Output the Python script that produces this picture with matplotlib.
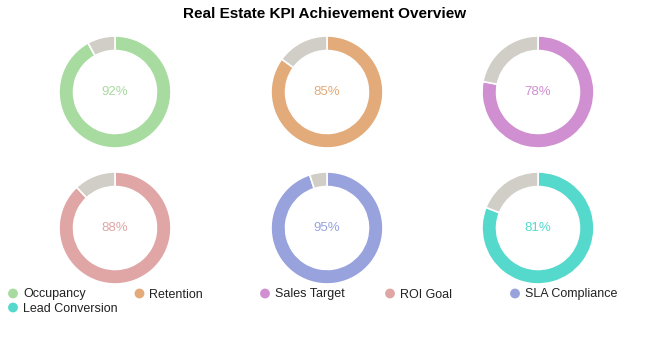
import matplotlib
matplotlib.use("Agg")
import matplotlib.pyplot as plt

plt.rcParams['font.family'] = ['Liberation Sans', 'DejaVu Sans']

kpis = ["Occupancy", "Retention", "Sales Target", "ROI Goal", "SLA Compliance", "Lead Conversion"]
values = [92, 85, 78, 88, 95, 81]
colors = ["#a8dba0", "#e3aa7a", "#d08fd0", "#e0a6a6", "#98a2dc", "#55d9cc"]
rest_color = "#d1cdc7"
title = "Real Estate KPI Achievement Overview"

W, H = 650, 351
fig = plt.figure(figsize=(W / 100, H / 100), dpi=100)
fig.patch.set_facecolor("white")

centers_x = [115, 327, 538]
centers_y = [92, 228]
R = 56

for i, (name, v, c) in enumerate(zip(kpis, values, colors)):
    cx = centers_x[i % 3]
    cy = centers_y[i // 3]
    ax = fig.add_axes([(cx - R) / W, (H - cy - R) / H, 2 * R / W, 2 * R / H])
    ax.pie([v, 100 - v], colors=[c, rest_color], startangle=90, counterclock=False,
           radius=1.0, wedgeprops=dict(width=0.26, edgecolor="white", linewidth=1.2))
    ax.set_xlim(-1.0, 1.0)
    ax.set_ylim(-1.0, 1.0)
    ax.text(0, 0, f"{v}%", ha="center", va="center", fontsize=9.5, color=c)
    ax.axis("off")

fig.text(0.5, 1 - 14.5 / H, title, ha="center", va="center", fontsize=11, fontweight="bold")

# legend drawn on an overlay in pixel coordinates (y downwards)
lax = fig.add_axes([0, 0, 1, 1], zorder=5)
lax.set_xlim(0, W)
lax.set_ylim(H, 0)
lax.axis("off")
col_x = [13, 139.5, 265, 390, 515]
row_y = [293.5, 307.5]
for j, (name, c) in enumerate(zip(kpis, colors)):
    x = col_x[j % 5]
    y = row_y[j // 5]
    lax.scatter([x], [y], s=50, color=c, edgecolors="none")
    lax.text(x + 10, y + 4, name, ha="left", va="baseline", fontsize=9, color="#222222")

fig.savefig("out.png", dpi=100)
